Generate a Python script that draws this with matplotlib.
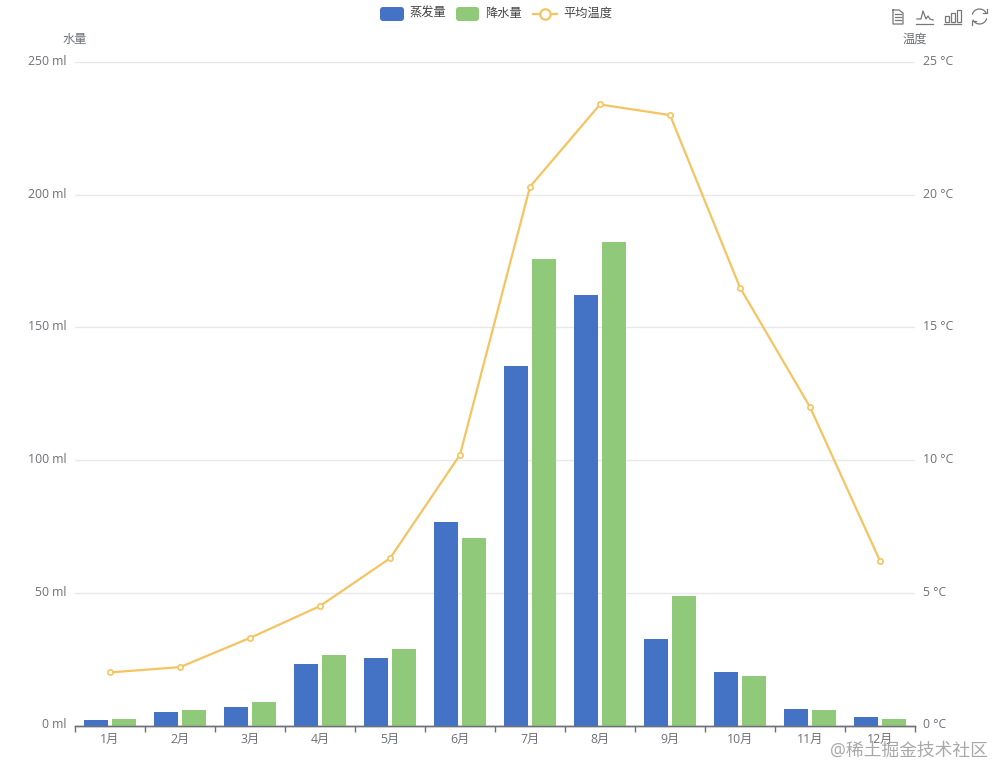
import matplotlib
matplotlib.use('Agg')
import matplotlib.pyplot as plt
import numpy as np
from matplotlib.patches import Rectangle, Arc, FancyBboxPatch
from matplotlib.lines import Line2D
from matplotlib.transforms import ScaledTranslation

plt.rcParams['font.family'] = ['Open Sans', 'Noto Sans CJK SC', 'DejaVu Sans']

months = ['1月', '2月', '3月', '4月', '5月', '6月', '7月', '8月', '9月', '10月', '11月', '12月']
evaporation = [2.0, 4.9, 7.0, 23.2, 25.6, 76.7, 135.6, 162.2, 32.6, 20.0, 6.4, 3.3]
precipitation = [2.6, 5.9, 9.0, 26.4, 28.7, 70.7, 175.6, 182.2, 48.7, 18.8, 6.0, 2.3]
temperature = [2.0, 2.2, 3.3, 4.5, 6.3, 10.2, 20.3, 23.4, 23.0, 16.5, 12.0, 6.2]
water_ticks = [0, 50, 100, 150, 200, 250]
temp_ticks = [0, 5, 10, 15, 20, 25]

W, H = 993, 767
BLUE = '#4472c4'
GREEN = '#91c97a'
YELLOW = '#f5c462'
GRAY = '#6e7079'
FS = 8.8

fig = plt.figure(figsize=(W / 100, H / 100), dpi=100)
ax = fig.add_axes([75 / W, 1 - 725.5 / H, 840 / W, (725.5 - 62) / H])
ax2 = ax.twinx()

x = np.arange(len(months))
ax.bar(x - 0.2, evaporation, 0.343, color=BLUE, zorder=3)
ax.bar(x + 0.2, precipitation, 0.343, color=GREEN, zorder=3)
ax.set_xlim(-0.5, 11.5)
ax.set_ylim(0, 250)
ax2.set_ylim(0, 25)

ax.set_yticks(water_ticks)
ax.set_yticklabels([f'{v} ml' for v in water_ticks], fontsize=FS, color=GRAY)
ax2.set_yticks(temp_ticks)
ax2.set_yticklabels([f'{v} °C' for v in temp_ticks], fontsize=FS, color=GRAY)
ax.tick_params(axis='y', length=0, pad=6)
ax2.tick_params(axis='y', length=0, pad=6)

# labels sit a little above their gridline in the reference
for lab in ax.get_yticklabels() + ax2.get_yticklabels():
    lab.set_transform(lab.get_transform() + ScaledTranslation(0, 0.02, fig.dpi_scale_trans))

ax.set_xticks(np.arange(-0.5, 12, 1))
ax.set_xticklabels([])
ax.set_xticks(x, minor=True)
ax.set_xticklabels(months, minor=True, fontsize=FS, color=GRAY)
ax.tick_params(axis='x', which='major', length=4, width=1, color=GRAY, direction='out')
ax.tick_params(axis='x', which='minor', length=0, pad=5)

ax.grid(axis='y', color='#e6e8eb', linewidth=1, zorder=0)
ax.set_axisbelow(True)
for a in (ax, ax2):
    for s in ('top', 'left', 'right'):
        a.spines[s].set_visible(False)
    a.spines['bottom'].set_color(GRAY)
    a.spines['bottom'].set_linewidth(1)

ax2.plot(x, temperature, color=YELLOW, linewidth=1.6, marker='o', markersize=3.8,
         markerfacecolor='white', markeredgecolor=YELLOW, markeredgewidth=1.2,
         clip_on=False, zorder=5)

# pixel overlay for legend, axis names, toolbox and watermark
ov = fig.add_axes([0, 0, 1, 1], facecolor='none')
ov.set_xlim(0, W)
ov.set_ylim(H, 0)
ov.axis('off')

ov.text(75, 39.5, '水量', fontsize=FS, color=GRAY, ha='center', va='center')
ov.text(915, 39.5, '温度', fontsize=FS, color=GRAY, ha='center', va='center')

ov.add_patch(FancyBboxPatch((381, 8), 22, 12, boxstyle='round,pad=1,rounding_size=3', fc=BLUE, ec='none'))
ov.text(409, 13, '蒸发量', fontsize=FS, color='#444444', ha='left', va='center')
ov.add_patch(FancyBboxPatch((457, 8), 21, 12, boxstyle='round,pad=1,rounding_size=3', fc=GREEN, ec='none'))
ov.text(485, 13, '降水量', fontsize=FS, color='#444444', ha='left', va='center')
ov.add_line(Line2D([533, 557], [13.5, 13.5], color=YELLOW, lw=1.6))
ov.add_line(Line2D([545], [13.5], marker='o', ms=7.5, mfc='white', mec=YELLOW, mew=1.6))
ov.text(563, 13, '平均温度', fontsize=FS, color='#444444', ha='left', va='center')

# toolbox icons
ic = dict(color='#777777', lw=0.9)
ov.add_line(Line2D([893, 893, 903, 903, 899, 893], [10, 24, 24, 13, 10, 10], **ic))
for yy in (14, 17, 20):
    ov.add_line(Line2D([895, 901], [yy, yy], **ic))
ov.add_line(Line2D([917, 921, 923, 926, 928, 930, 933], [19, 19, 11, 19, 16, 19, 20], **ic))
ov.add_line(Line2D([916, 933], [24, 24], **ic))
for bx, by in ((945, 16), (951, 13), (957, 10)):
    ov.add_patch(Rectangle((bx, by), 3.5, 22 - by, fc='none', ec='#777777', lw=0.9))
ov.add_line(Line2D([944, 961], [24, 24], **ic))
ov.add_patch(Arc((979.5, 16.5), 15, 15, theta1=195, theta2=335, color='#777777', lw=0.9))
ov.add_patch(Arc((979.5, 16.5), 15, 15, theta1=15, theta2=155, color='#777777', lw=0.9))
ov.add_line(Line2D([983, 987, 987], [12.5, 12.5, 8.5], **ic))
ov.add_line(Line2D([972, 972, 976], [24.5, 20.5, 20.5], **ic))

# watermark
ov.text(988, 751, '@稀土掘金技术社区', fontsize=12.8, color='#a8a8a8', ha='right', va='center')

fig.savefig('out.png', dpi=100)
